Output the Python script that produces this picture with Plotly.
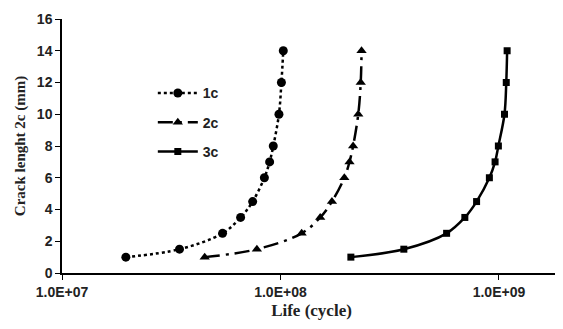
import plotly.graph_objects as go

crack_1c = [1, 1.5, 2.5, 3.5, 4.5, 6, 7, 8, 10, 12, 14]
life_1c = [1.96e7, 3.45e7, 5.43e7, 6.57e7, 7.46e7, 8.44e7, 8.92e7, 9.27e7, 9.84e7, 1.01e8, 1.03e8]

crack_2c = [1, 1.5, 2.5, 3.5, 4.5, 6, 7, 8, 10, 12, 14]
life_2c = [4.5e7, 7.8e7, 1.25e8, 1.52e8, 1.72e8, 1.96e8, 2.07e8, 2.15e8, 2.27e8, 2.33e8, 2.35e8]

crack_3c = [1, 1.5, 2.5, 3.5, 4.5, 6, 7, 8, 10, 12, 14]
life_3c = [2.1e8, 3.67e8, 5.76e8, 6.98e8, 7.9e8, 9.04e8, 9.6e8, 9.94e8, 1.06e9, 1.08e9, 1.09e9]

x_tickvals = [1e7, 1e8, 1e9]
x_ticktext = ["1.0E+07", "1.0E+08", "1.0E+09"]

fig = go.Figure()
fig.add_trace(go.Scatter(x=life_1c, y=crack_1c, name="1c", legendgroup="a",
                         mode="lines+markers", line=dict(color="black", width=2.5, dash="dot", shape="spline"),
                         marker=dict(symbol="circle", size=9, color="black")))
fig.add_trace(go.Scatter(x=life_2c, y=crack_2c, name="2c", legendgroup="b",
                         mode="lines+markers", line=dict(color="black", width=2.5, dash="longdashdot", shape="spline"),
                         marker=dict(symbol="triangle-up", size=9, color="black")))
fig.add_trace(go.Scatter(x=life_3c, y=crack_3c, name="3c", legendgroup="c",
                         mode="lines+markers", line=dict(color="black", width=2.5, shape="spline"),
                         marker=dict(symbol="square", size=7, color="black")))

fig.update_layout(
    width=555, height=321,
    margin=dict(l=54, r=2, t=11, b=56),
    paper_bgcolor="white", plot_bgcolor="white",
    showlegend=True,
    legend=dict(x=0.182, y=0.77, xanchor="left", yanchor="top", bgcolor="rgba(0,0,0,0)",
                font=dict(family="Liberation Sans", size=14, color="#222", weight="bold"),
                tracegroupgap=8, traceorder="grouped", itemwidth=40),
    xaxis=dict(type="log", range=[7, 9.284], tickvals=x_tickvals, ticktext=x_ticktext,
               showgrid=False, zeroline=False, showline=True, linecolor="black", linewidth=1.5,
               ticks="outside", ticklen=5, tickcolor="black",
               tickfont=dict(family="Liberation Sans", size=14, color="#222", weight="bold"),
               title=dict(text="Life (cycle)", font=dict(family="Liberation Serif", size=17, color="#222", weight="bold"),
                          standoff=6)),
    yaxis=dict(range=[0, 16], dtick=2, showgrid=False, zeroline=False, showline=True,
               linecolor="black", linewidth=1.5, ticks="outside", ticklen=5, tickcolor="black",
               tickfont=dict(family="Liberation Sans", size=14, color="#222", weight="bold"),
               title=dict(text="Crack lenght 2c (mm)", font=dict(family="Liberation Serif", size=15, color="#222", weight="bold"),
                          standoff=8)),
)

fig.write_html("out.html")
